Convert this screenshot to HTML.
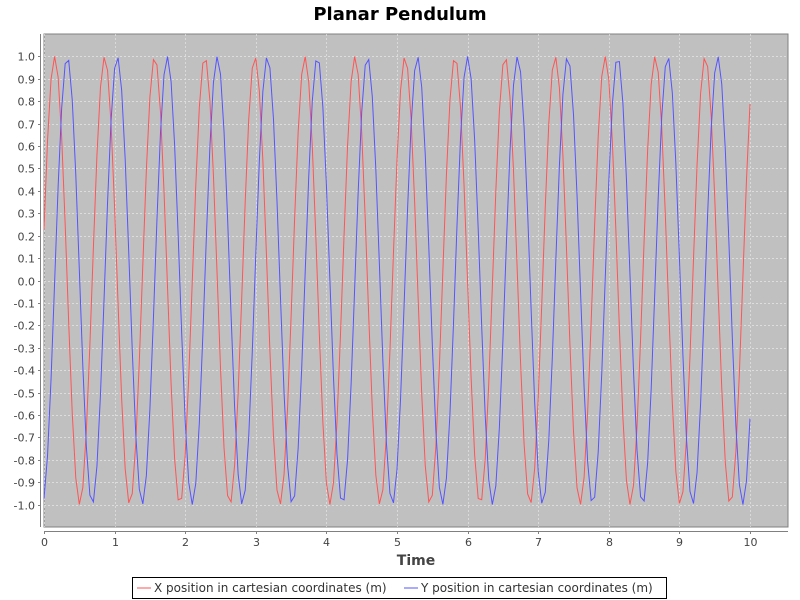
<!DOCTYPE html>
<html><head><meta charset="utf-8"><style>
html,body{margin:0;padding:0;background:#fff;width:800px;height:600px;overflow:hidden;font-family:"DejaVu Sans","Liberation Sans",sans-serif}
</style></head><body>
<svg id="chart" width="800" height="600" xmlns="http://www.w3.org/2000/svg" font-family="DejaVu Sans, Liberation Sans, sans-serif">
<text x="400" y="20" text-anchor="middle" font-size="18" font-weight="bold" fill="#000">Planar Pendulum</text>
<rect x="44" y="34" width="744" height="493" fill="#c0c0c0" stroke="#808080" stroke-width="1"/>
<g id="grid"></g>
<g id="yaxis"></g>
<g id="xaxis"></g>
<g id="series"></g>
<text x="416" y="565" text-anchor="middle" font-size="14" font-weight="bold" fill="#444">Time</text>
<g>
<rect x="132.5" y="577.5" width="534" height="21" fill="#fff" stroke="#000"/>
<g>
<line x1="137" y1="588" x2="151" y2="588" stroke="#ff5555" stroke-width="1"/>
<text x="154" y="592" font-size="12" fill="#333">X position in cartesian coordinates (m)</text>
</g>
<g>
<line x1="404" y1="588" x2="418" y2="588" stroke="#5555ff" stroke-width="1"/>
<text x="421" y="592" font-size="12" fill="#333">Y position in cartesian coordinates (m)</text>
</g>
</g>
</svg>
<script>
const xTicks=[0,1,2,3,4,5,6,7,8,9,10];
const yTicks=[-1.0,-0.9,-0.8,-0.7,-0.6,-0.5,-0.4,-0.3,-0.2,-0.1,0.0,0.1,0.2,0.3,0.4,0.5,0.6,0.7,0.8,0.9,1.0];
const dt=0.05;
const xSeries=[
0.228,0.624,0.899,1.000,0.908,0.641,0.250,-0.190,-0.592,-0.881,-0.999,-0.924,-0.670,-0.287,
0.151,0.560,0.862,0.996,0.938,0.699,0.325,-0.112,-0.528,-0.841,-0.992,-0.951,-0.726,-0.361,
0.073,0.494,0.819,0.986,0.962,0.752,0.398,-0.034,-0.460,-0.796,-0.979,-0.972,-0.778,-0.433,
-0.005,0.425,0.772,0.970,0.981,0.802,0.468,0.044,-0.389,-0.747,-0.960,-0.988,-0.824,-0.502,
-0.083,0.352,0.720,0.948,0.993,0.846,0.536,0.122,-0.315,-0.692,-0.935,-0.997,-0.866,-0.568,
-0.161,0.278,0.663,0.920,0.999,0.885,0.600,0.199,-0.240,-0.633,-0.904,-1.000,-0.903,-0.631,
-0.237,0.202,0.603,0.887,0.999,0.919,0.661,0.275,-0.164,-0.571,-0.868,-0.997,-0.934,-0.689,
-0.313,0.125,0.538,0.848,0.993,0.947,0.717,0.349,-0.086,-0.505,-0.826,-0.988,-0.959,-0.744,
-0.386,0.047,0.471,0.804,0.981,0.969,0.770,0.422,-0.008,-0.436,-0.780,-0.973,-0.978,-0.794,
-0.457,-0.031,0.401,0.755,0.963,0.985,0.817,0.491,0.070,-0.364,-0.729,-0.952,-0.991,-0.839,
-0.525,-0.109,0.328,0.701,0.939,0.996,0.860,0.558,0.148,-0.290,-0.673,-0.925,-0.999,-0.879,
-0.590,-0.187,0.253,0.644,0.910,1.000,0.897,0.621,0.225,-0.215,-0.613,-0.893,-1.000,-0.914,
-0.651,-0.263,0.176,0.581,0.874,0.998,0.929,0.681,0.300,-0.138,-0.549,-0.854,-0.995,-0.943,
-0.708,-0.337,0.099,0.516,0.834,0.990,0.955,0.735,0.374,-0.060,-0.482,-0.811,-0.984,-0.966,
-0.762,-0.410,0.021,0.447,0.788];
const ySeries=[
-0.974,-0.782,-0.439,-0.011,0.419,0.768,0.968,0.982,0.806,0.474,0.050,-0.383,-0.742,-0.958,
-0.988,-0.828,-0.508,-0.089,0.347,0.715,0.946,0.994,0.849,0.541,0.128,-0.310,-0.688,-0.932,
-0.997,-0.870,-0.574,-0.167,0.272,0.659,0.918,0.999,0.888,0.605,0.205,-0.234,-0.629,-0.901,
-1.000,-0.905,-0.636,-0.243,0.196,0.598,0.884,0.999,0.921,0.665,0.281,-0.157,-0.566,-0.865,
-0.997,-0.936,-0.694,-0.319,0.119,0.533,0.844,0.993,0.949,0.722,0.356,-0.080,-0.500,-0.823,
-0.987,-0.961,-0.748,-0.392,0.041,0.465,0.800,0.980,0.971,0.774,0.427,-0.002,-0.430,-0.776,
-0.971,-0.979,-0.798,-0.462,-0.037,0.395,0.751,0.961,0.986,0.821,0.497,0.077,-0.359,-0.724,
-0.950,-0.992,-0.843,-0.530,-0.115,0.322,0.697,0.937,0.996,0.863,0.563,0.154,-0.284,-0.668,
-0.923,-0.999,-0.882,-0.595,-0.193,0.247,0.638,0.907,1.000,0.900,0.626,0.231,-0.209,-0.608,
-0.890,-1.000,-0.916,-0.656,-0.269,0.170,0.576,0.871,0.998,0.931,0.685,0.307,-0.131,-0.544,
-0.851,-0.994,-0.945,-0.713,-0.343,0.093,0.511,0.830,0.989,0.957,0.740,0.380,-0.053,-0.477,
-0.808,-0.982,-0.967,-0.765,-0.416,0.014,0.442,0.784,0.974,0.977,0.790,0.451,0.025,-0.406,
-0.759,-0.965,-0.984,-0.814,-0.486,-0.064,0.370,0.733,0.954,0.991,0.836,0.520,0.103,-0.334,
-0.706,-0.941,-0.995,-0.857,-0.552,-0.142,0.297,0.678,0.927,0.998,0.876,0.585,0.181,-0.259,
-0.648,-0.912,-1.000,-0.894,-0.616];

const NS="http://www.w3.org/2000/svg";
const L=44,R=788,T=34,B=527;
const xMin=0,xMax=(R-L)/70.6,yMin=-1.1,yMax=1.1;
function sx(t){return L+(t-xMin)/(xMax-xMin)*(R-L);}
function sy(v){return B-(v-yMin)/(yMax-yMin)*(B-T);}
function mk(tag,attrs,parent){const e=document.createElementNS(NS,tag);for(const k in attrs)e.setAttribute(k,attrs[k]);parent.appendChild(e);return e;}
const grid=document.getElementById('grid'),ya=document.getElementById('yaxis'),xa=document.getElementById('xaxis'),sg=document.getElementById('series');
mk('line',{x1:40.5,y1:T,x2:40.5,y2:B,stroke:'#808080'},ya);
yTicks.forEach(v=>{
  const y=Math.round(sy(v))+0.5;
  const g=mk('line',{x1:L,y1:y,x2:R,y2:y,stroke:'#e6e6e6','stroke-width':0.7,'stroke-dasharray':'2,2'},grid);
  
  
  mk('line',{x1:38,y1:y,x2:40.5,y2:y,stroke:'#808080'},ya);
  const t=mk('text',{x:35,y:y+4,'text-anchor':'end','font-size':11,fill:'#444'},ya);
  t.textContent=v.toFixed(1);
  
  
});
mk('line',{x1:L,y1:531.5,x2:R,y2:531.5,stroke:'#808080'},xa);
xTicks.forEach(v=>{
  const x=Math.round(sx(v))+0.5;
  const g=mk('line',{x1:x,y1:T,x2:x,y2:B,stroke:'#e6e6e6','stroke-width':0.7,'stroke-dasharray':'2,2'},grid);
  
  
  mk('line',{x1:x,y1:531.5,x2:x,y2:534,stroke:'#808080'},xa);
  const t=mk('text',{x:x,y:546,'text-anchor':'middle','font-size':11,fill:'#444'},xa);
  t.textContent=String(v);
  
  
});
function drawLine(vals,color,name){
  const pts=vals.map((v,i)=>sx(i*dt).toFixed(2)+','+sy(v).toFixed(2)).join(' ');
  const p=mk('polyline',{points:pts,fill:'none',stroke:color,'stroke-width':1},sg);
  
  
}
drawLine(xSeries,'#ff5555','x-position-line');
drawLine(ySeries,'#5555ff','y-position-line');
</script>
</body></html>
